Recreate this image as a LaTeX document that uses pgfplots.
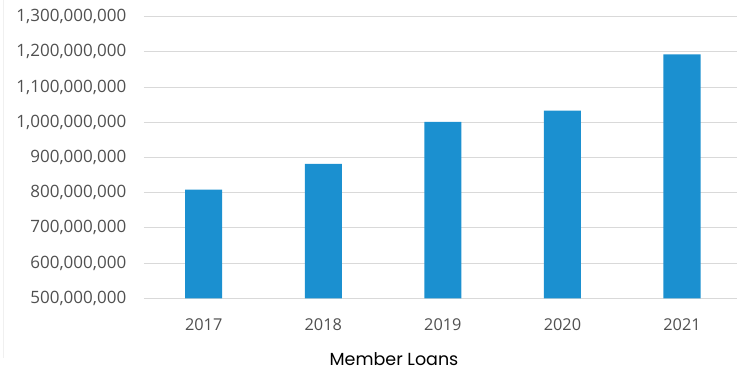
\documentclass[border=0pt]{standalone}
\usepackage{pgfplots}
\pgfplotsset{compat=1.18}
\usepackage{fontspec}
\setmainfont{Open Sans}
\newfontfamily\capfont{Poppins}
\definecolor{barblue}{RGB}{27,144,208}
\definecolor{gridgray}{RGB}{217,217,217}
\definecolor{ticktext}{RGB}{80,80,80}
\begin{document}
\begin{tikzpicture}[x=1pt,y=1pt]
\useasboundingbox (0,0) rectangle (737,373);
\draw[color=gray!12, line width=0.8pt] (3,15) -- (3,373);
\begin{axis}[
  at={(143.9pt,74.7pt)}, anchor=south west,
  scale only axis,
  width=593.1pt, height=281.6pt,
  xmin=-0.5, xmax=4.46,
  ymin=500000000, ymax=1300000000,
  axis line style={draw=none},
  major tick length=0pt,
  xtick={0,1,2,3,4},
  xticklabels={2017,2018,2019,2020,2021},
  ytick={500000000,600000000,700000000,800000000,900000000,1000000000,1100000000,1200000000,1300000000},
  yticklabels={{500,000,000},{600,000,000},{700,000,000},{800,000,000},{900,000,000},{1,000,000,000},{1,100,000,000},{1,200,000,000},{1,300,000,000}},
  scaled y ticks=false,
  ymajorgrids,
  major grid style={draw=gridgray, line width=1pt},
  yticklabel style={font=\fontsize{17}{20}\selectfont, text=ticktext, inner sep=0pt, anchor=east, xshift=-17.5pt},
  xticklabel style={font=\fontsize{16.3}{20}\selectfont, text=ticktext, inner sep=0pt, anchor=north, yshift=-20pt},
  clip=false,
]
\addplot[ybar, bar width=37pt, fill=barblue, draw=none, bar shift=0pt] coordinates {
  (0,809000000) (1,882000000) (2,1001000000) (3,1033000000) (4,1193000000)
};
\end{axis}
\node[anchor=base, inner sep=0pt] at (394,8) {\capfont\fontsize{17.5}{20}\selectfont Member Loans};
\end{tikzpicture}
\end{document}
